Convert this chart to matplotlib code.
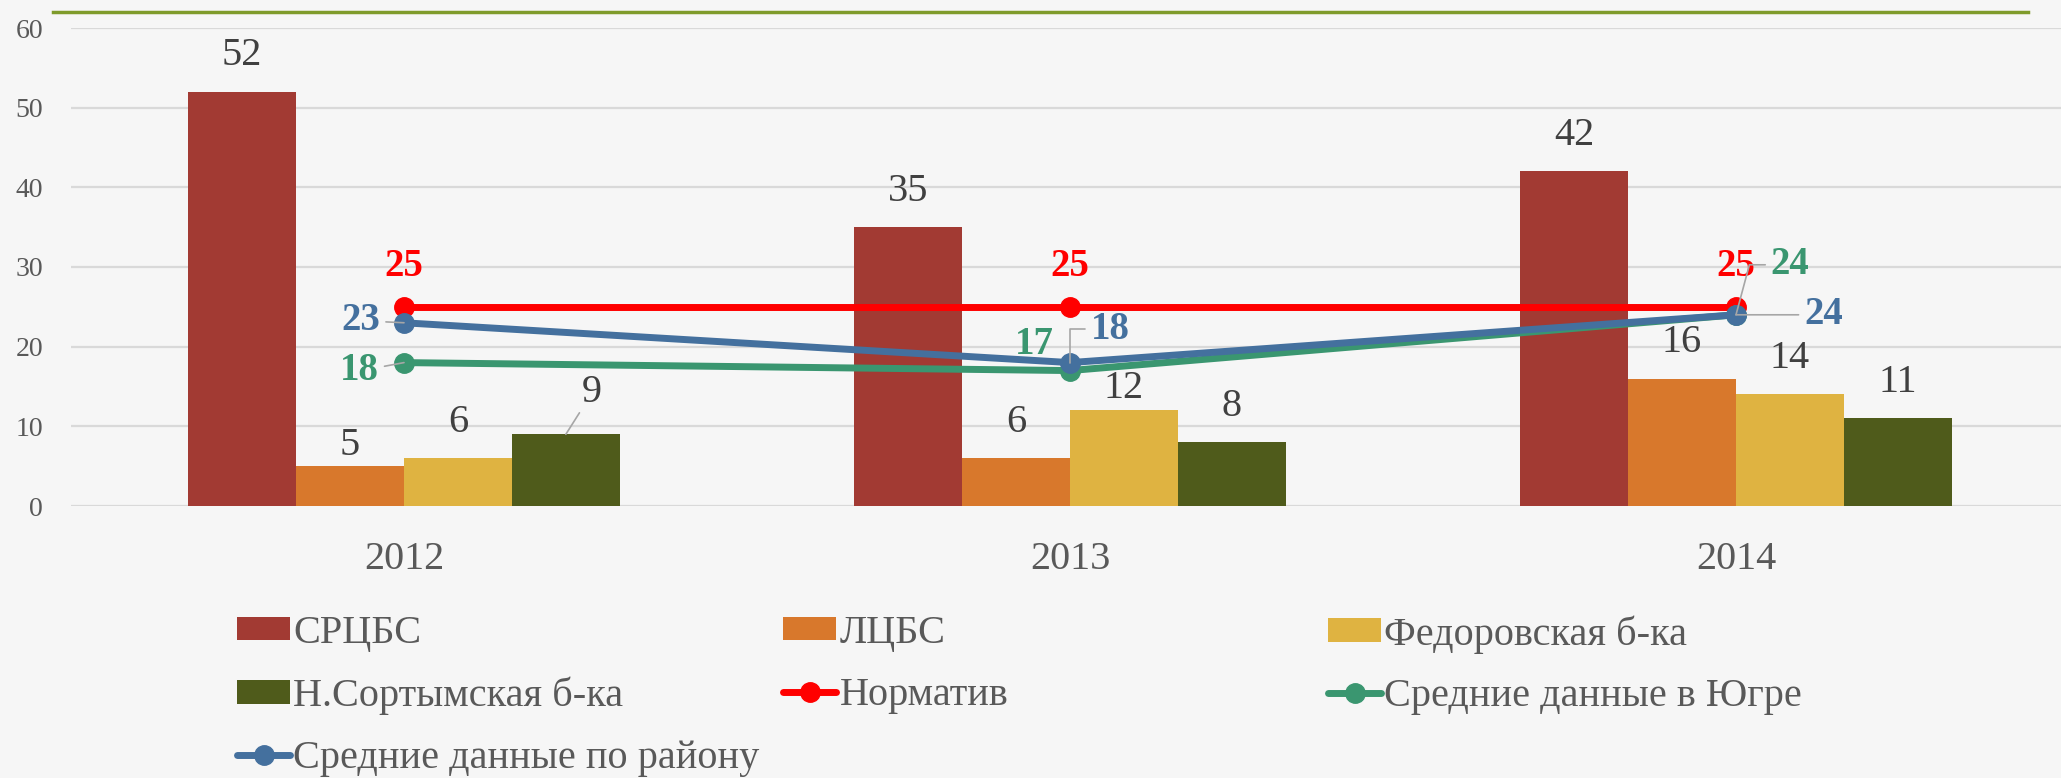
import matplotlib
matplotlib.use('Agg')
import matplotlib.pyplot as plt
import numpy as np
from matplotlib.lines import Line2D

plt.rcParams['font.family'] = ['Liberation Serif', 'DejaVu Serif']

years = ['2012', '2013', '2014']
bar_names = ['СРЦБС', 'ЛЦБС', 'Федоровская б-ка', 'Н.Сортымская б-ка']
srcbs = [52, 35, 42]
lcbs = [5, 6, 16]
fedorovskaya = [6, 12, 14]
nsortym = [9, 8, 11]
bar_values = [srcbs, lcbs, fedorovskaya, nsortym]
bar_colors = ['#A23A33', '#D8782C', '#DFB341', '#4F5B1B']

line_names = ['Норматив', 'Средние данные в Югре', 'Средние данные по району']
normativ = [25, 25, 25]
yugra = [18, 17, 24]
rayon = [23, 18, 24]
line_values = [normativ, yugra, rayon]
line_colors = ['#FF0000', '#3A9670', '#44709E']

yticks = [0, 10, 20, 30, 40, 50, 60]

W, H = 2061, 778
fig = plt.figure(figsize=(W / 100, H / 100), dpi=100, facecolor='#F6F6F6')
ax = fig.add_axes([71 / W, 272 / H, 1998 / W, 478 / H])
ax.set_facecolor('none')

x = np.arange(len(years))
bw = 0.162
# special label offsets (series, point) -> (dx, dy) in points
bar_lab_special = {(3, 0): (19, 30), (1, 0): (0, 15), (2, 1): (0, 16)}
bar_handles = []
for i, (name, vals, col) in enumerate(zip(bar_names, bar_values, bar_colors)):
    xs = x + (i - 1.5) * bw
    bc = ax.bar(xs, vals, width=bw, color=col, label=name, zorder=2)
    bar_handles.append(bc)
    for j, (xx, v) in enumerate(zip(xs, vals)):
        off = bar_lab_special.get((i, j), (0, 26))
        kw = {}
        if (i, j) == (3, 0):
            kw['arrowprops'] = dict(arrowstyle='-', color='#A6A6A6', lw=1.2,
                                    shrinkA=0, shrinkB=0)
        ax.annotate(str(v), xy=(xx, v), xytext=off, textcoords='offset points',
                    ha='center', va='center', fontsize=29, color='#404040', **kw)

line_handles = []
for name, vals, col in zip(line_names, line_values, line_colors):
    ln, = ax.plot(x, vals, color=col, lw=5, marker='o', ms=14, label=name, zorder=4,
                  solid_capstyle='round')
    line_handles.append(ln)

lab_offsets = {
    (0, 0): ((0, 29), None), (0, 1): ((0, 29), None), (0, 2): ((0, 29), None),
    (1, 0): ((-32, -6), 'arc3'), (1, 1): ((-26, 19), None),
    (1, 2): ((39, 36), 'angle,angleA=0,angleB=75,rad=0'),
    (2, 0): ((-31, 1.5), 'arc3'), (2, 1): ((29, 24), 'angle,angleA=0,angleB=90,rad=0'),
    (2, 2): ((63, 0), 'arc3'),
}
for si, (vals, col) in enumerate(zip(line_values, line_colors)):
    for pj, v in enumerate(vals):
        off, cs = lab_offsets[(si, pj)]
        kw = {}
        if cs is not None:
            kw['arrowprops'] = dict(arrowstyle='-', color='#A6A6A6', lw=1.2,
                                    shrinkA=2, shrinkB=0, connectionstyle=cs)
        ax.annotate(str(v), xy=(x[pj], v), xytext=off, textcoords='offset points',
                    ha='center', va='center', fontsize=28, fontweight='bold',
                    color=col, zorder=6, **kw)

ax.set_xlim(-0.5, 2.5)
ax.set_ylim(0, 60)
ax.set_yticks(yticks)
ax.set_xticks(x)
ax.set_xticklabels(years)
ax.tick_params(axis='y', length=0, pad=20, labelsize=20, labelcolor='#595959')
ax.tick_params(axis='x', length=0, pad=25.5, labelsize=29, labelcolor='#595959')
for s in ax.spines.values():
    s.set_visible(False)
ax.yaxis.grid(True, color='#D9D9D9', lw=1.6)
ax.set_axisbelow(True)

fig.add_artist(Line2D([53 / W, 2028 / W], [1 - 12 / H, 1 - 12 / H], color='#7F9B2B',
                      lw=2.5, transform=fig.transFigure))

leg_kw = dict(loc='upper left', frameon=False, fontsize=29, handlelength=1.32,
              handleheight=0.52, handletextpad=0.08, labelspacing=0.61,
              borderpad=0, borderaxespad=0, labelcolor='#595959')
ytop = 1 - 615 / H
cols = [
    ([bar_handles[0], bar_handles[3], line_handles[2]], 237),
    ([bar_handles[1], line_handles[0]], 783),
    ([bar_handles[2], line_handles[1]], 1328),
]
for hs, xpx in cols:
    fig.legend(handles=hs, labels=[h.get_label() for h in hs],
               bbox_to_anchor=(xpx / W, ytop), **leg_kw)

fig.savefig('out.png', dpi=100, facecolor=fig.get_facecolor())
